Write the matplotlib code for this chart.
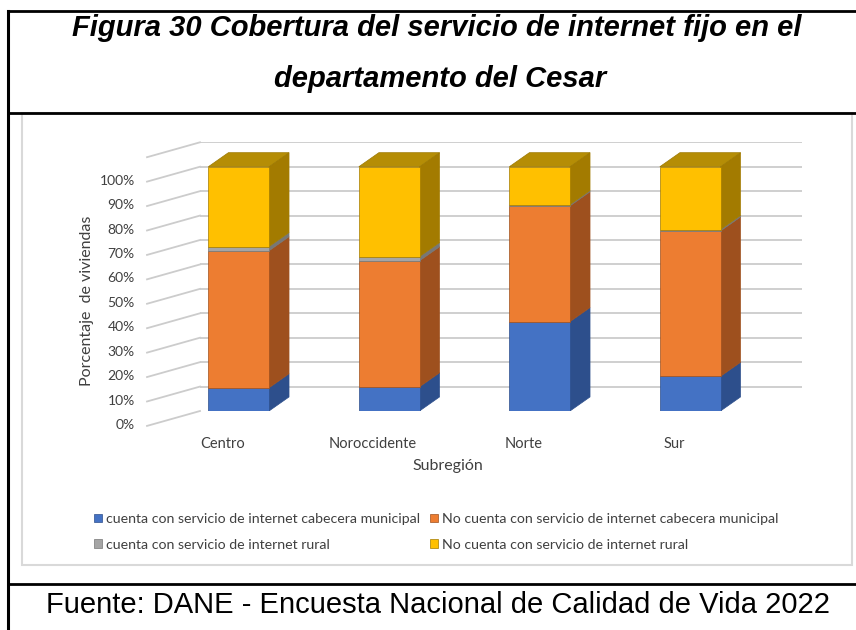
import numpy as np
import matplotlib
matplotlib.use("Agg")
import matplotlib.pyplot as plt
from matplotlib.patches import Polygon, Rectangle, Patch
from matplotlib.transforms import ScaledTranslation

categories = ["Centro", "Noroccidente", "Norte", "Sur"]
cab_con = [9.5, 9.9, 36.6, 14.2]     # cuenta con servicio cabecera municipal
cab_sin = [56.1, 51.6, 47.4, 59.5]   # no cuenta con servicio cabecera municipal
rur_con = [1.7, 1.7, 0.5, 0.6]       # cuenta con servicio rural
rur_sin = [32.7, 36.8, 15.5, 25.7]   # no cuenta con servicio rural
y_ticks = [0, 10, 20, 30, 40, 50, 60, 70, 80, 90, 100]

series = [
    ("cuenta con servicio de internet cabecera municipal", cab_con, "#4472C4", "#2D4F8C"),
    ("No cuenta con servicio de internet cabecera municipal", cab_sin, "#ED7D31", "#9E501E"),
    ("cuenta con servicio de internet rural", rur_con, "#A5A5A5", "#777777"),
    ("No cuenta con servicio de internet rural", rur_sin, "#FFC000", "#A37B00"),
]
top_color = "#B58D06"

chart_font = "Lato"
W, H = 856, 630

fig = plt.figure(figsize=(W / 100, H / 100), dpi=100)

# frame / decoration layer in pixel units
bg = fig.add_axes([0, 0, 1, 1], zorder=0)
bg.set_xlim(0, W)
bg.set_ylim(H, 0)
bg.axis("off")
bg.add_patch(Rectangle((22, 113), 830, 452, facecolor="white", edgecolor="#d9d9d9", lw=1.5))
bg.plot([8, W], [11, 11], color="black", lw=2)
bg.plot([8, 8], [11, H], color="black", lw=2.2)
bg.plot([8, W], [112.5, 112.5], color="black", lw=2)
bg.plot([8, W], [584, 584], color="black", lw=2)

fig.text(437 / W, 1 - 36 / H, "Figura 30 Cobertura del servicio de internet fijo en el",
         ha="center", va="baseline", fontsize=21, fontweight="bold", fontstyle="italic",
         family="Liberation Sans")
fig.text(440 / W, 1 - 87 / H, "departamento del Cesar",
         ha="center", va="baseline", fontsize=21, fontweight="bold", fontstyle="italic",
         family="Liberation Sans")
fig.text(438 / W, 1 - 613 / H, "Fuente: DANE - Encuesta Nacional de Calidad de Vida 2022",
         ha="center", va="baseline", fontsize=21, family="Liberation Sans")

# chart axes: front faces of bars in data units
ax = fig.add_axes([200 / W, 1 - 411 / H, 601.7 / W, 268.7 / H], zorder=1)
ax.patch.set_alpha(0)
x = np.arange(len(categories))
ax.set_xlim(-0.257, 3.741)
ax.set_ylim(0, 110)
for s in ax.spines.values():
    s.set_visible(False)

DX, DY = 0.133, 5.75   # depth of the bars
WX, WY = 0.352, 6.1    # depth of the side wall

grid_c = "#cccccc"
x0, x1 = ax.get_xlim()
ax.hlines(y_ticks[1:] + [110], x0, x1, color=grid_c, lw=1.3, zorder=1)
for v in y_ticks + [110]:
    ax.plot([x0 - WX, x0], [v - WY, v], color=grid_c, lw=1.3, clip_on=False, zorder=1)

bottom = np.zeros(len(categories))
handles = []
for i, (label, vals, front, side) in enumerate(series):
    bars = ax.bar(x, vals, 0.403, bottom=bottom, color=front, edgecolor=side,
                  lw=0.5, zorder=3)
    for r in bars:
        bx, by, bw, bh = r.get_x(), r.get_y(), r.get_width(), r.get_height()
        ax.add_patch(Polygon([(bx + bw, by), (bx + bw + DX, by + DY),
                              (bx + bw + DX, by + bh + DY), (bx + bw, by + bh)],
                             closed=True, facecolor=side, edgecolor=side, lw=0.5, zorder=2.5))
        if i == len(series) - 1:
            ax.add_patch(Polygon([(bx, by + bh), (bx + bw, by + bh),
                                  (bx + bw + DX, by + bh + DY), (bx + DX, by + bh + DY)],
                                 closed=True, facecolor=top_color, edgecolor="#9c7800",
                                 lw=0.5, zorder=2.6))
    bottom += np.array(vals)
    handles.append(Patch(facecolor=front, edgecolor=side, lw=0.5, label=label))

ax.set_yticks(y_ticks, [f"{v}%" for v in y_ticks])
ax.tick_params(axis="y", length=0, pad=47, labelsize=10, labelcolor="#404040")
for lbl in ax.get_yticklabels():
    lbl.set_family(chart_font)
    lbl.set_transform(lbl.get_transform() + ScaledTranslation(0, -0.13, fig.dpi_scale_trans))

ax.set_xticks(x, categories)
ax.tick_params(axis="x", length=0, pad=19, labelsize=10.5, labelcolor="#404040")
for lbl in ax.get_xticklabels():
    lbl.set_family(chart_font)
    lbl.set_transform(lbl.get_transform() + ScaledTranslation(-0.16, 0, fig.dpi_scale_trans))

ax.set_ylabel("Porcentaje  de viviendas", family=chart_font, fontsize=11.5, color="#404040")
ax.yaxis.set_label_coords(-0.176, 0.409)
ax.set_xlabel("Subregión", family=chart_font, fontsize=11.5, color="#404040")
ax.xaxis.set_label_coords(0.412, -0.18)

order = [handles[0], handles[2], handles[1], handles[3]]
fig.legend(handles=order, ncol=2, loc="upper left", bbox_to_anchor=(87 / W, 1 - 506 / H),
           frameon=False, borderpad=0, handlelength=0.55, handleheight=0.55,
           handletextpad=0.3, columnspacing=0.7, labelspacing=0.95,
           prop={"family": chart_font, "size": 10.2}, labelcolor="#404040")

fig.savefig("out.png", dpi=100)
